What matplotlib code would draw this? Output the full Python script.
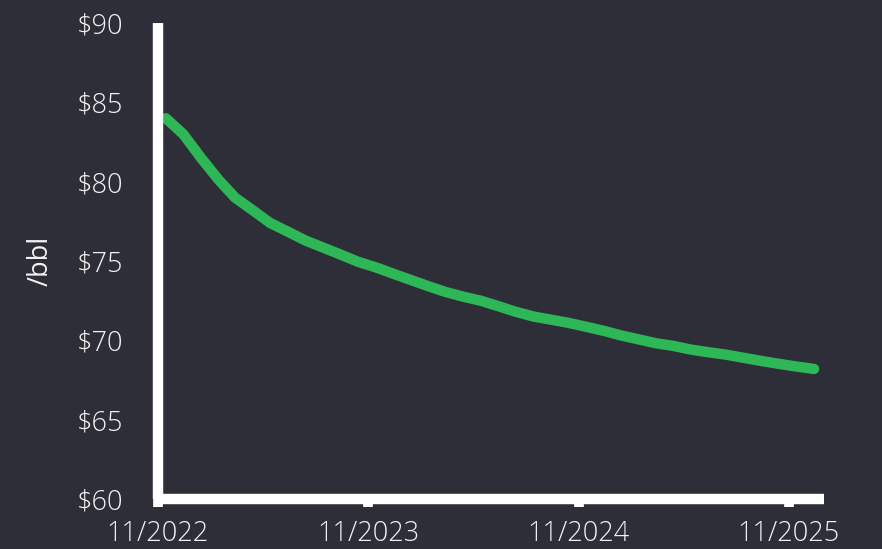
import matplotlib
matplotlib.use("Agg")
import matplotlib.pyplot as plt
import matplotlib.dates as mdates
import pandas as pd

plt.rcParams["font.family"] = ["Open Sans", "DejaVu Sans"]
plt.rcParams["font.weight"] = "light"

BG = "#2e2e38"
FG = "#f2f2f2"
GREEN = "#2db757"

# Monthly futures strip, $/bbl (mid-month)
months = pd.date_range("2022-11-01", periods=38, freq="MS") + pd.Timedelta(days=14)
prices = [
    84.0, 83.0, 81.5, 80.1, 79.0, 78.2, 77.4, 76.85, 76.3, 75.85,
    75.4, 74.95, 74.6, 74.2, 73.8, 73.4, 73.05, 72.75, 72.5, 72.15,
    71.8, 71.5, 71.3, 71.1, 70.85, 70.6, 70.3, 70.05, 69.82, 69.65,
    69.42, 69.25, 69.1, 68.9, 68.7, 68.52, 68.35, 68.2,
]
tick_dates = pd.to_datetime(["2022-11-01", "2023-11-01", "2024-11-01", "2025-11-01"])
y_ticks = [60, 65, 70, 75, 80, 85, 90]

fig = plt.figure(figsize=(8.82, 5.49), dpi=100, facecolor=BG)
ax = fig.add_axes([0.179, 0.091, 0.755, 0.867], facecolor=BG)

ax.plot(months, prices, color=GREEN, lw=7.5, solid_capstyle="round", solid_joinstyle="round")

ax.set_xlim(pd.Timestamp("2022-11-01"), pd.Timestamp("2026-01-01"))
ax.set_ylim(60, 90)
ax.set_yticks(y_ticks)
ax.set_yticklabels([f"${v}" for v in y_ticks])
ax.set_xticks(tick_dates)
ax.xaxis.set_major_formatter(mdates.DateFormatter("%m/%Y"))

for side in ("top", "right"):
    ax.spines[side].set_visible(False)
for side in ("left", "bottom"):
    ax.spines[side].set_color("white")
    ax.spines[side].set_linewidth(7.5)
    ax.spines[side].set_capstyle("butt")

ax.tick_params(axis="y", length=0, pad=25, labelsize=19.5, labelcolor=FG)
ax.tick_params(axis="x", direction="out", length=6, width=7, color="white",
               pad=9, labelsize=19.5, labelcolor=FG)

ax.set_ylabel("/bbl", color=FG, fontsize=19.5)
ax.yaxis.set_label_coords(-0.155, 0.5)

fig.savefig("out.png", dpi=100, facecolor=BG)
